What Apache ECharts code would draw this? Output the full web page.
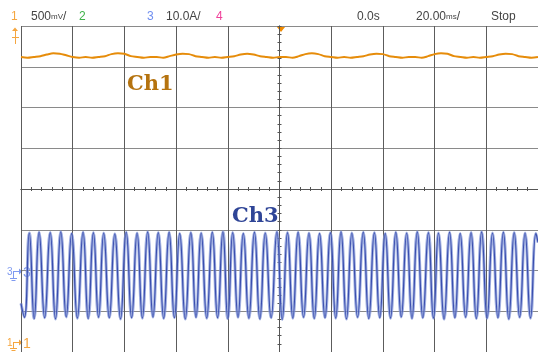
<!DOCTYPE html>
<html><head><meta charset="utf-8">
<script src="https://cdn.jsdelivr.net/npm/echarts@6/dist/echarts.min.js"></script>
<style>html,body{margin:0;padding:0;background:#fff;overflow:hidden}#c{width:538px;height:352px;}</style>
</head><body><div id="c"></div>
<script>
// ---- Scope settings (read from the header) ----
const ch1VoltsPerDiv = 0.5;      // 500mV/div
const ch3AmpsPerDiv = 10;        // 10.0A/div
const msPerDiv = 20;             // 20.00ms/div
const ch1GroundDiv = -3.78;      // ground marker "1" position (divisions from centre)
const ch3GroundDiv = -2.01;      // ground marker "3" position

// ---- Ch1 (volts), sampled every 2.5 ms from -100 ms ----
const ch1SampleMs = 2.5;
const ch1Volts = [
  3.51,3.50,3.51,3.52,3.54,3.555,3.55,3.53,3.51,3.50,
  3.51,3.50,3.51,3.52,3.545,3.555,3.55,3.52,3.51,3.50,
  3.51,3.51,3.50,3.52,3.54,3.55,3.545,3.52,3.51,3.50,
  3.51,3.50,3.51,3.52,3.54,3.55,3.54,3.52,3.51,3.50,
  3.51,3.51,3.50,3.52,3.545,3.555,3.545,3.52,3.51,3.50,
  3.51,3.50,3.51,3.52,3.54,3.55,3.545,3.52,3.51,3.50,
  3.51,3.51,3.50,3.52,3.545,3.555,3.55,3.52,3.51,3.50,
  3.51,3.50,3.51,3.52,3.54,3.55,3.545,3.52,3.51,3.50,
  3.51
];

// ---- Ch3 (amps): peak times (ms), peak and trough values ----
const ch3PeakMs = [
  -96.8,-93.0,-88.7,-84.6,-80.4,-76.0,-72.0,-68.0,-63.7,
  -59.3,-55.1,-51.0,-46.9,-42.7,-38.6,-34.3,-30.3,-26.0,-21.9,
  -18.1,-14.0,-9.7,-5.5,-1.0,3.1,7.2,11.4,15.5,19.7,
  23.8,28.0,32.4,36.7,40.9,45.0,49.2,53.3,57.6,
  61.5,65.8,69.9,74.1,78.2,82.4,86.6,90.8,95.0,
  99.2
];
const ch3PeakA = [
  9.3,9.5,9.4,9.6,9.2,9.5,9.4,9.3,9.1,
  9.5,9.3,9.6,9.4,9.5,9.2,9.4,9.3,9.5,9.6,
  9.4,9.2,9.5,9.3,9.6,9.4,9.5,9.3,9.2,9.4,
  9.6,9.3,9.5,9.4,9.2,9.5,9.3,9.6,9.4,
  9.3,9.5,9.2,9.4,9.6,9.3,9.5,9.4,9.3,
  9.2
];
const ch3TroughA = [
  -11.4,-11.7,-11.5,-11.8,-11.3,-11.6,-11.7,-11.4,-11.5,
  -11.8,-11.5,-11.6,-11.3,-11.7,-11.5,-11.8,-11.4,-11.6,-11.5,
  -11.7,-11.4,-11.6,-11.8,-11.5,-11.9,-11.6,-11.4,-11.7,-11.5,
  -11.6,-11.8,-11.4,-11.7,-11.5,-11.6,-11.3,-11.7,-11.5,
  -11.6,-11.8,-11.5,-11.4,-11.7,-11.6,-11.5,-11.8,-11.4,
  -11.6
];
const ch3StartA = -8.0;
const ch3EndA = 7.0;

// ---- build series data ----
const ch1Data = ch1Volts.map((v, i) => [-5 * msPerDiv + i * ch1SampleMs, v / ch1VoltsPerDiv + ch1GroundDiv]);
const a2d = a => a / ch3AmpsPerDiv + ch3GroundDiv;
const ch3Data = [[-5 * msPerDiv, a2d(ch3StartA)]];
ch3PeakMs.forEach((t, k) => {
  const prev = k === 0 ? ch3PeakMs[0] - (ch3PeakMs[1] - ch3PeakMs[0]) : ch3PeakMs[k - 1];
  ch3Data.push([(prev + t) / 2, a2d(ch3TroughA[k])]);
  ch3Data.push([t, a2d(ch3PeakA[k])]);
});
ch3Data.push([5 * msPerDiv, a2d(ch3EndA)]);

const chart = echarts.init(document.getElementById('c'), null, {renderer: 'canvas'});
const vGrid = '#5c5c5c', hGrid = '#8a8a8a', tickC = '#555';
const xBase = {
  type: 'value', min: -100, max: 100, interval: 20, position: 'bottom',
  axisLabel: {show: false},
  axisLine: {show: true, onZero: true, onZeroAxisIndex: 0, lineStyle: {color: tickC, width: 1}},
  minorTick: {show: true, splitNumber: 5, length: 2, lineStyle: {color: tickC}},
};
const yBase = {
  type: 'value', min: -4, max: 4, interval: 1, position: 'left',
  axisLabel: {show: false},
  axisLine: {show: true, onZero: true, onZeroAxisIndex: 0, lineStyle: {color: tickC, width: 1}},
  minorTick: {show: true, splitNumber: 5, length: 2, lineStyle: {color: tickC}},
};
const F = '12px "Liberation Sans", Arial, sans-serif';
const txt = (x, y, text, fill, font) => ({type: 'text', x, y, silent: true, style: {text, fill, font: font || F, textVerticalAlign: 'middle'}});

chart.setOption({
  animation: false,
  backgroundColor: '#ffffff',
  grid: {left: 21, top: 26, width: 520, height: 326, containLabel: false},
  xAxis: [
    Object.assign({}, xBase, {splitLine: {show: true, lineStyle: {color: vGrid, width: 1}},
      axisTick: {show: true, inside: false, length: 2, lineStyle: {color: tickC}}}),
    Object.assign({}, xBase, {splitLine: {show: false},
      axisTick: {show: true, inside: true, length: 2, lineStyle: {color: tickC}}})
  ],
  yAxis: [
    Object.assign({}, yBase, {splitLine: {show: true, lineStyle: {color: hGrid, width: 1}},
      axisTick: {show: true, inside: false, length: 2, lineStyle: {color: tickC}}}),
    Object.assign({}, yBase, {splitLine: {show: false},
      axisTick: {show: true, inside: true, length: 2, lineStyle: {color: tickC}}})
  ],
  series: [
    {type: 'line', name: 'Ch3 halo', data: ch3Data, smooth: 0.5, showSymbol: false, silent: true, z: 3,
     lineStyle: {color: 'rgba(130,150,215,0.75)', width: 3}},
    {type: 'line', name: 'Ch3', data: ch3Data, smooth: 0.5, showSymbol: false, silent: true, z: 4,
     lineStyle: {color: '#3a4eae', width: 1.2}},
    {type: 'line', name: 'Ch1', data: ch1Data, smooth: 0.3, showSymbol: false, silent: true, z: 4,
     lineStyle: {color: '#e68c0a', width: 2}}
  ],
  graphic: [
    txt(11, 17, '1', '#f5a640'),
    {type: 'text', x: 31, y: 17, silent: true, style: {
      text: '{n|500}{u|mV}{n|/}', textVerticalAlign: 'middle',
      rich: {n: {font: F, fill: '#444'}, u: {font: '8px "Liberation Sans", Arial', fill: '#444'}}}},
    txt(79, 17, '2', '#3fb24a'),
    txt(147, 17, '3', '#6f8ef0'),
    txt(166, 17, '10.0A/', '#444'),
    txt(216, 17, '4', '#f0409a'),
    txt(357, 17, '0.0s', '#444'),
    {type: 'text', x: 416, y: 17, silent: true, style: {
      text: '{n|20.00}{u|ms}{n|/}', textVerticalAlign: 'middle',
      rich: {n: {font: F, fill: '#444'}, u: {font: '8px "Liberation Sans", Arial', fill: '#444'}}}},
    txt(491, 17, 'Stop', '#444'),
    // trigger position marker
    {type: 'polygon', silent: true, shape: {points: [[276.5, 26.5], [285.5, 26.5], [281, 32]]}, style: {fill: '#f08a00'}},
    // Ch1 trigger level marker
    {type: 'polygon', silent: true, shape: {points: [[12, 31], [15, 27.5], [18, 31]]}, style: {fill: '#f5a640'}},
    {type: 'line', silent: true, shape: {x1: 15.5, y1: 29, x2: 15.5, y2: 44}, style: {stroke: '#f5a640', lineWidth: 1}},
    {type: 'line', silent: true, shape: {x1: 12, y1: 37.5, x2: 19, y2: 37.5}, style: {stroke: '#f5a640', lineWidth: 1}},
    // Ch3 ground marker
    txt(7, 272, '3', '#7f9af0', '10px "Liberation Sans", Arial'),
    {type: 'line', silent: true, shape: {x1: 13, y1: 271.5, x2: 21, y2: 271.5}, style: {stroke: '#7f9af0', lineWidth: 1}},
    {type: 'polygon', silent: true, shape: {points: [[19, 268.5], [22.5, 271.5], [19, 274.5]]}, style: {fill: '#7f9af0'}},
    {type: 'line', silent: true, shape: {x1: 13.5, y1: 271.5, x2: 13.5, y2: 278}, style: {stroke: '#7f9af0', lineWidth: 1}},
    {type: 'line', silent: true, shape: {x1: 10, y1: 278.5, x2: 17, y2: 278.5}, style: {stroke: '#7f9af0', lineWidth: 1}},
    {type: 'line', silent: true, shape: {x1: 11.5, y1: 280.5, x2: 15.5, y2: 280.5}, style: {stroke: '#7f9af0', lineWidth: 1}},
    txt(23, 273, '3', '#7f9af0', '14px "Liberation Sans", Arial'),
    // Ch1 ground marker
    txt(7, 343, '1', '#f5a640', '10px "Liberation Sans", Arial'),
    {type: 'line', silent: true, shape: {x1: 13, y1: 342.5, x2: 21, y2: 342.5}, style: {stroke: '#f5a640', lineWidth: 1}},
    {type: 'polygon', silent: true, shape: {points: [[19, 339.5], [22.5, 342.5], [19, 345.5]]}, style: {fill: '#f5a640'}},
    {type: 'line', silent: true, shape: {x1: 13.5, y1: 342.5, x2: 13.5, y2: 348}, style: {stroke: '#f5a640', lineWidth: 1}},
    {type: 'line', silent: true, shape: {x1: 10, y1: 348.5, x2: 17, y2: 348.5}, style: {stroke: '#f5a640', lineWidth: 1}},
    {type: 'line', silent: true, shape: {x1: 11.5, y1: 350.5, x2: 15.5, y2: 350.5}, style: {stroke: '#f5a640', lineWidth: 1}},
    txt(23, 344, '1', '#f5a640', '14px "Liberation Sans", Arial'),
    // channel labels
    txt(127, 85, 'Ch1', '#b5730f', 'bold 21px "DejaVu Serif", serif'),
    txt(232, 217, 'Ch3', '#2f4597', 'bold 21px "DejaVu Serif", serif')
  ]
});
</script></body></html>
